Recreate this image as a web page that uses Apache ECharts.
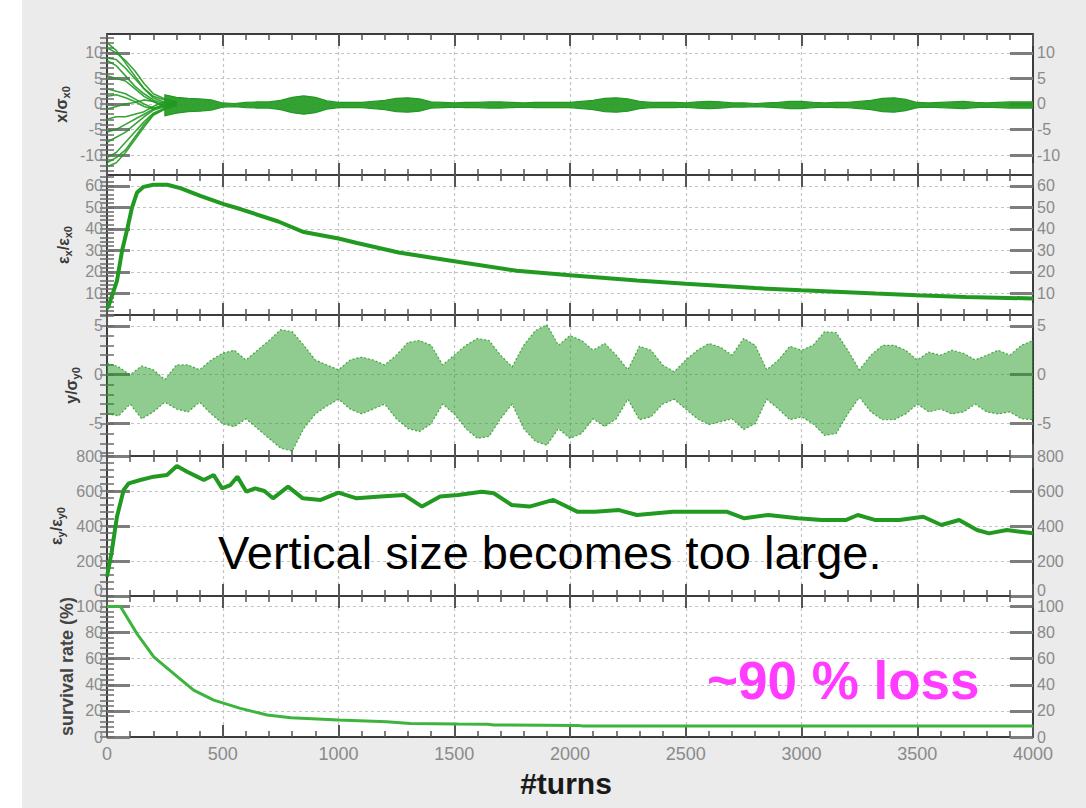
<!DOCTYPE html>
<html>
<head>
<meta charset="utf-8">
<script src="https://cdn.jsdelivr.net/npm/echarts@6/dist/echarts.min.js"></script>
<style>html,body{margin:0;padding:0;background:#fff}#c{width:1086px;height:808px}</style>
</head>
<body>
<div id="c"></div>
<script>
// ---------------- data ----------------
// Panel 1: x / sigma_x0 — early particle trajectories
const p1TrajTurns = [0, 40, 80, 120, 160, 200, 250, 300];
const p1TrajA = [12, 10.5, 8, 5.5, 3, 1.5, 0.8, 0.5];
const p1TrajB = [11, 10, 8.5, 6.5, 4, 2, 1, 0.3];
const p1TrajC = [9, 8.7, 7, 5, 3, 1.2, 0.3, -0.3];
const p1TrajD = [8.5, 7.5, 5.5, 3.5, 2, 0.8, 0, 0.4];
const p1TrajE = [5.5, 5, 4.5, 3, 1.5, 0.5, -0.5, 0];
const p1TrajF = [3, 2.5, 2, 1, 0, -0.8, -0.5, 0.2];
const p1TrajG = [1.5, 1.8, 1.2, 0.5, -0.5, -1, 0, -0.3];
const p1TrajH = [-1, -0.5, 0, 0.3, 0.8, 0.5, -0.5, 0];
const p1TrajI = [-3, -2.5, -2.5, -2, -1.5, -0.5, 0.5, -0.2];
const p1TrajJ = [-5.5, -5, -4, -3, -2, -1, 0, 0.3];
const p1TrajK = [-7.5, -6.5, -5.5, -4, -2.5, -1.2, -0.5, 0];
const p1TrajL = [-10.5, -9.5, -7.5, -5.5, -3.5, -1.8, -0.8, 0.2];
const p1TrajM = [-11.5, -10.5, -9, -6.5, -4, -2, -1, -0.3];
const p1TrajN = [-12.3, -11.5, -9.5, -7, -4.5, -2.2, -1, 0];
// Panel 1: envelope of the dense band (turns 250..4000 every 50)
const p1BandUpper = [1.8,1.3,1.1,1.0,0.8,0.2,0.1,0.3,0.4,0.4, 0.7,1.3,1.6,1.3,0.6,0.3,0.3,0.3,0.5,0.7,
  1.1,1.2,1.0,0.4,0.3,0.2,0.3,0.3,0.4,0.4, 0.3,0.2,0.3,0.3,0.3,0.3,0.5,0.7,1.1,1.2,
  1.0,0.5,0.3,0.3,0.3,0.2,0.4,0.5,0.4,0.2, 0.2,0.1,0.2,0.3,0.5,0.5,0.3,0.2,0.3,0.3,
  0.5,0.7,1.1,1.2,0.9,0.3,0.2,0.3,0.4,0.5, 0.3,0.2,0.3,0.4,0.4,0.4];
const p1BandLower = [-2.3,-1.8,-1.5,-1.4,-1.2,-0.6,-0.5,-0.7,-0.8,-0.8, -1.1,-1.7,-2.0,-1.7,-1.0,-0.7,-0.7,-0.7,-0.9,-1.1,
  -1.5,-1.6,-1.4,-0.8,-0.7,-0.6,-0.7,-0.7,-0.8,-0.8, -0.7,-0.6,-0.7,-0.7,-0.7,-0.7,-0.9,-1.1,-1.5,-1.6,
  -1.4,-0.9,-0.7,-0.7,-0.7,-0.6,-0.8,-0.9,-0.8,-0.6, -0.6,-0.5,-0.6,-0.7,-0.9,-0.9,-0.7,-0.6,-0.7,-0.7,
  -0.9,-1.1,-1.5,-1.6,-1.3,-0.7,-0.6,-0.7,-0.8,-0.9, -0.7,-0.6,-0.7,-0.8,-0.8,-0.8];

// Panel 2: eps_x / eps_x0
const p2Turns = [0, 7, 43, 65, 89, 108, 130, 158, 200, 260, 317, 403, 504, 576, 740, 850, 1000, 1080, 1260, 1500, 1770, 2000, 2290, 2500, 2800, 3000, 3320, 3500, 3710, 4000];
const p2Values = [3, 4.2, 15.8, 29.8, 40.6, 49.9, 56.9, 59.5, 60.5, 60.5, 58.9, 55.3, 51.5, 49.2, 43.4, 38.5, 35.5, 33.4, 29, 25, 20.5, 18.5, 16, 14.5, 12.5, 11.5, 10, 9.2, 8.3, 7.7];

// Panel 3: y / sigma_y0 — envelope of the point cloud (turns 0..4000 every 50)
const p3Upper = [1.2,0.8,0.0,0.9,0.5,-0.5,1.0,1.0,0.5,1.5, 2.2,2.5,1.5,2.5,3.5,4.6,4.4,3.0,1.5,1.0,
  0.5,1.5,1.8,1.5,1.0,2.0,3.3,3.5,3.0,1.0, 2.0,3.0,3.7,3.5,2.0,0.8,3.0,4.5,5.1,3.0,
  4.0,3.5,2.5,3.2,2.0,0.5,2.9,2.5,1.0,0.3, 1.5,2.5,3.2,2.8,2.0,3.7,3.0,0.5,1.5,2.9,
  2.5,3.0,4.4,4.3,2.5,0.5,2.0,3.0,3.0,2.5, 1.5,2.3,2.0,2.5,2.2,1.5,2.0,2.5,2.0,3.0, 3.5];
const p3Lower = [-4.0,-4.2,-3.0,-4.5,-3.8,-2.8,-3.5,-3.8,-2.8,-4.0, -5.0,-5.3,-4.5,-5.5,-6.5,-7.5,-7.8,-5.5,-4.0,-3.2,
  -2.5,-3.5,-4.0,-3.5,-3.0,-4.5,-5.5,-5.8,-5.0,-3.0, -4.0,-5.5,-6.5,-6.3,-4.5,-3.0,-5.5,-6.8,-7.2,-5.5,
  -6.5,-6.0,-4.5,-5.3,-4.5,-2.5,-4.6,-4.3,-3.0,-2.5, -3.5,-4.5,-5.1,-4.8,-4.5,-5.6,-5.0,-2.5,-3.5,-4.6,
  -4.3,-5.0,-6.2,-6.0,-4.0,-2.3,-3.8,-4.6,-4.6,-4.0, -3.0,-3.8,-3.5,-4.0,-3.8,-3.0,-3.8,-4.0,-3.8,-4.5, -4.6];

// Panel 4: eps_y / eps_y0
const p4Turns = [0,20,43,72,94,144,202,259,302,346, 389,418,461,497,533,563,602,640,680,717, 782,846,923,1000,1078,1181,1284,1361,1439,1516,
  1619,1671,1748,1825,1928,2031,2108,2212,2289,2444, 2547,2676,2753,2856,2985,3088,3191,3243,3320,3423, 3526,3604,3681,3758,3810,3887,4000];
const p4Values = [110,250,453,606,644,663,682,691,743,710, 682,663,691,615,634,682,596,615,600,558, 625,558,549,591,558,568,577,511,568,577,
  596,587,520,511,549,482,482,491,463,482, 482,482,444,463,444,434,434,463,434,434, 453,406,434,377,358,377,358];

// Panel 5: survival rate (%)
const p5Turns = [0, 58, 130, 202, 288, 374, 461, 576, 692, 794, 1000, 1207, 1310, 1516, 1645, 1671, 2031, 2057, 4000];
const p5Values = [100, 100, 79, 61.3, 48.6, 35.9, 28.2, 21.9, 16.8, 14.8, 13, 11.7, 10.4, 9.9, 9.7, 9.2, 8.9, 8.4, 8.4];

// Axis tick labels
const xTicks = [0, 500, 1000, 1500, 2000, 2500, 3000, 3500, 4000];
const yTicks1 = [-10, -5, 0, 5, 10];
const yTicks2 = [0, 10, 20, 30, 40, 50, 60];
const yTicks3 = [-5, 0, 5];
const yTicks4 = [0, 200, 400, 600, 800];
const yTicks5 = [0, 20, 40, 60, 80, 100];
const yNames = ['{a|x/σ}{s|x0}', '{a|ε}{s|x}{a|/ε}{s|x0}', '{a|y/σ}{s|y0}', '{a|ε}{s|y}{a|/ε}{s|y0}', '{b|survival rate (%)}'];

// ---------------- layout / style ----------------
const grids = [{top: 34, height: 141}, {top: 175, height: 140}, {top: 315, height: 141}, {top: 456, height: 140}, {top: 596, height: 141}];
const yRanges = [[-13.9, 13.7], [0, 65], [-8.3, 6.1], [0, 800], [0, 108]];
const yMajor = [yTicks1, yTicks2, yTicks3, yTicks4, yTicks5];
const yMinorStep = [1, 2, 1, 40, 4];
const liftBottomLabel = [false, true, false, true, false];
const nameGaps = [36, 34, 26, 41, 31];
const green = '#229a22';
const frame = '#3c3c3c';
const labelColor = '#8a8a8a';
const FONT = 'Liberation Sans';

function minorVals(i) {
  const lo = yRanges[i][0], hi = yRanges[i][1], s = yMinorStep[i];
  const out = [];
  for (let v = Math.ceil(lo / s) * s; v <= hi + 1e-9; v += s) out.push(+v.toFixed(6));
  return out;
}
const pairs = (xs, ys) => xs.map((x, k) => [x, ys[k]]);
const stepTurns = (a, b, s) => { const o = []; for (let t = a; t <= b; t += s) o.push(t); return o; };

function bandSeries(xi, yi, turns, lower, upper, fill, stroke, dash) {
  return {
    type: 'custom', xAxisIndex: xi, yAxisIndex: yi, silent: true, clip: true,
    data: [[turns[0], lower[0]]],
    renderItem: (params, api) => {
      const top = turns.map((t, k) => api.coord([t, upper[k]]));
      const bot = turns.map((t, k) => api.coord([t, lower[k]])).reverse();
      return {type: 'polygon', shape: {points: top.concat(bot)},
        style: {fill: fill, stroke: stroke, lineWidth: 1.2, lineDash: dash || null}};
    }
  };
}

const xAxis = [], yAxis = [], series = [];
grids.forEach((g, i) => {
  ['bottom', 'top'].forEach(pos => {
    xAxis.push({
      gridIndex: i, type: 'value', position: pos, min: 0, max: 4000, interval: 500,
      axisLine: {show: true, onZero: false, lineStyle: {color: frame, width: 2}},
      axisTick: {show: true, inside: true, length: 12, lineStyle: {color: '#555', width: 2}},
      minorTick: {show: true, splitNumber: 5, length: 6, lineStyle: {color: '#555', width: 1.5}},
      axisLabel: {show: pos === 'bottom' && i === 4, customValues: xTicks, formatter: v => String(v),
        color: labelColor, fontSize: 18, fontFamily: FONT, margin: 8},
      splitLine: {show: pos === 'bottom', lineStyle: {type: [3, 3], color: '#c4c4c4', width: 1.2}}
    });
  });
  ['left', 'right'].forEach(pos => {
    yAxis.push({
      gridIndex: i, type: 'value', position: pos, min: yRanges[i][0], max: yRanges[i][1],
      axisLine: {show: true, onZero: false, lineStyle: {color: frame, width: 2}},
      axisTick: {show: true, inside: true, length: 23, customValues: yMajor[i], lineStyle: {color: '#7d7d7d', width: 3}},
      axisLabel: {show: true, customValues: yMajor[i], color: labelColor, fontSize: 16, fontFamily: FONT, margin: 4,
        formatter: v => (liftBottomLabel[i] && v === yMajor[i][0]) ? '{lo|' + v + '}' : String(v),
        rich: {lo: {color: labelColor, fontSize: 16, fontFamily: FONT, padding: [0, 0, 12, 0]}}},
      splitLine: {show: pos === 'left', lineStyle: {type: [3, 3], color: '#c4c4c4', width: 1.2}},
      name: pos === 'left' ? yNames[i] : '',
      nameLocation: 'middle', nameRotate: 90, nameGap: nameGaps[i], nameMoveOverlap: false,
      nameTextStyle: {
        fontFamily: FONT,
        rich: {
          a: {fontSize: 16, fontWeight: 'bold', color: '#3a3a3a', fontFamily: FONT},
          s: {fontSize: 11, fontWeight: 'bold', color: '#3a3a3a', fontFamily: FONT, padding: [8, 0, 0, 0], verticalAlign: 'bottom'},
          b: {fontSize: 18, fontWeight: 'bold', color: '#444', fontFamily: FONT}
        }
      }
    });
    yAxis.push({
      gridIndex: i, type: 'value', position: pos, min: yRanges[i][0], max: yRanges[i][1],
      axisLine: {show: false},
      axisTick: {show: true, inside: true, length: 7, customValues: minorVals(i), lineStyle: {color: '#6a6a6a', width: 1.5}},
      axisLabel: {show: false},
      splitLine: {show: false}
    });
  });
});

// Panel 1 series
[p1TrajA, p1TrajB, p1TrajC, p1TrajD, p1TrajE, p1TrajF, p1TrajG, p1TrajH, p1TrajI, p1TrajJ, p1TrajK, p1TrajL, p1TrajM, p1TrajN].forEach(tr => {
  series.push({type: 'line', xAxisIndex: 0, yAxisIndex: 0, data: pairs(p1TrajTurns, tr), symbol: 'none', silent: true,
    lineStyle: {color: green, width: 1.6, opacity: 0.9}});
});
series.push(bandSeries(0, 0, stepTurns(250, 4000, 50), p1BandLower, p1BandUpper, 'rgba(34,154,34,0.92)', '#229a22'));

// Panel 2
series.push({type: 'line', xAxisIndex: 2, yAxisIndex: 4, data: pairs(p2Turns, p2Values), symbol: 'none', silent: true,
  lineStyle: {color: green, width: 4}});

// Panel 3
series.push(bandSeries(4, 8, stepTurns(0, 4000, 50), p3Lower, p3Upper, 'rgba(34,154,34,0.5)', 'rgba(34,154,34,0.8)', [2, 2]));

// Panel 4
series.push({type: 'line', xAxisIndex: 6, yAxisIndex: 12, data: pairs(p4Turns, p4Values), symbol: 'none', silent: true,
  lineStyle: {color: green, width: 4}});

// Panel 5
series.push({type: 'line', xAxisIndex: 8, yAxisIndex: 16, data: pairs(p5Turns, p5Values), symbol: 'none', silent: true,
  lineStyle: {color: '#3db43d', width: 3}});

const chart = echarts.init(document.getElementById('c'), null, {renderer: 'svg', width: 1086, height: 808});
chart.setOption({
  animation: false,
  backgroundColor: '#ebebeb',
  grid: grids.map(g => ({left: 107, width: 926, top: g.top, height: g.height, show: true, backgroundColor: '#fff', borderWidth: 0, outerBoundsMode: 'none'})),
  xAxis, yAxis, series,
  graphic: [
    {type: 'rect', x: 0, y: 0, shape: {width: 22, height: 808}, style: {fill: '#ffffff'}, z: 0},
    {type: 'text', x: 218, y: 552, z: 100, style: {text: 'Vertical size becomes too large.', fontSize: 47, fontFamily: FONT, fill: '#000', align: 'left', verticalAlign: 'middle'}},
    {type: 'text', x: 707, y: 680, z: 100, style: {text: '~90 % loss', fontSize: 53, fontWeight: 'bold', fontFamily: FONT, fill: '#ff3cff', align: 'left', verticalAlign: 'middle'}},
    {type: 'text', x: 566, y: 783, z: 100, style: {text: '#turns', fontSize: 30, fontWeight: 'bold', fontFamily: FONT, fill: '#1a1a1a', align: 'center', verticalAlign: 'middle'}}
  ]
});
</script>
</body>
</html>
